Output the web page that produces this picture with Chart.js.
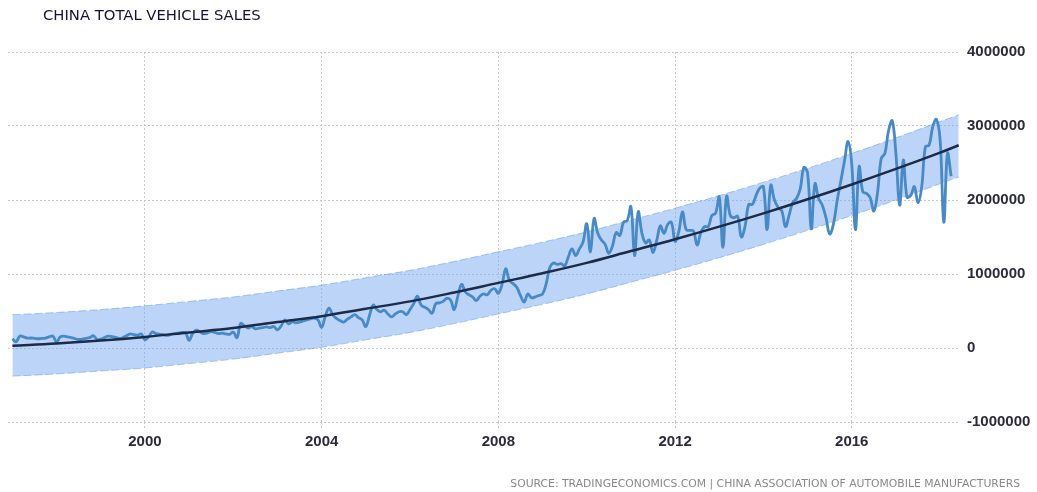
<!DOCTYPE html>
<html>
<head>
<meta charset="utf-8">
<script src="https://cdn.jsdelivr.net/npm/chart.js@4.4.1/dist/chart.umd.min.js"></script>
<style>
  body { margin: 0; background: #fff; }
  #wrap { position: relative; width: 1037px; height: 492px; }
  #title {
    position: absolute; left: 43px; top: 6px;
    font: 14.8px "DejaVu Sans", sans-serif; color: #141432;
  }
  #source {
    position: absolute; right: 17px; top: 477px;
    font: 10.8px "DejaVu Sans", sans-serif; color: #8a8a8a;
  }
</style>
</head>
<body>
<div id="wrap">
  <canvas id="myChart" width="1037" height="492"></canvas>
  <div id="title">CHINA TOTAL VEHICLE SALES</div>
  <div id="source">SOURCE: TRADINGECONOMICS.COM | CHINA ASSOCIATION OF AUTOMOBILE MANUFACTURERS</div>
</div>
<script>
// monthly sales, starting January 1997
let salesStartYear = 1997;
let sales = [
  125000, 85000, 160000, 150000, 135000, 135000, 130000, 125000, 130000, 135000, 150000, 160000, // 1997
  80000, 150000, 160000, 150000, 140000, 125000, 115000, 120000, 130000, 140000, 165000, 115000, // 1998
  120000, 140000, 160000, 155000, 145000, 130000, 140000, 165000, 190000, 180000, 175000, 190000, // 1999
  110000, 150000, 215000, 195000, 185000, 180000, 170000, 185000, 195000, 200000, 210000, 205000, // 2000
  105000, 200000, 240000, 215000, 195000, 205000, 220000, 210000, 195000, 200000, 190000, 185000, // 2001
  215000, 140000, 330000, 300000, 270000, 290000, 260000, 270000, 275000, 285000, 275000, 290000, // 2002
  245000, 300000, 380000, 325000, 355000, 340000, 350000, 365000, 380000, 395000, 405000, 380000, // 2003
  280000, 430000, 540000, 450000, 400000, 370000, 350000, 390000, 420000, 450000, 410000, 380000, // 2004
  290000, 440000, 580000, 520000, 490000, 510000, 460000, 420000, 460000, 490000, 490000, 450000, // 2005
  520000, 600000, 700000, 580000, 550000, 520000, 470000, 600000, 610000, 630000, 670000, 650000, // 2006
  520000, 700000, 860000, 760000, 720000, 690000, 640000, 700000, 730000, 720000, 780000, 800000, // 2007
  740000, 860000, 1070000, 910000, 870000, 820000, 710000, 620000, 730000, 680000, 690000, 710000, // 2008
  730000, 870000, 1090000, 1150000, 1130000, 1140000, 1110000, 1230000, 1340000, 1250000, 1340000, 1430000, // 2009
  1680000, 1300000, 1750000, 1550000, 1460000, 1400000, 1280000, 1380000, 1560000, 1520000, 1700000, 1720000, // 2010
  1910000, 1250000, 1840000, 1550000, 1420000, 1460000, 1290000, 1450000, 1650000, 1550000, 1670000, 1700000, // 2011
  1440000, 1570000, 1840000, 1600000, 1590000, 1580000, 1390000, 1560000, 1640000, 1640000, 1790000, 1820000, // 2012
  2040000, 1360000, 2050000, 1790000, 1760000, 1780000, 1500000, 1640000, 1940000, 1940000, 2060000, 2160000, // 2013
  2180000, 1600000, 2200000, 2000000, 1900000, 1850000, 1640000, 1800000, 1970000, 2020000, 2150000, 2440000, // 2014
  2360000, 1610000, 2220000, 2020000, 1930000, 1760000, 1540000, 1670000, 1980000, 2250000, 2520000, 2790000, // 2015
  2480000, 1600000, 2450000, 2110000, 2090000, 2030000, 1850000, 2100000, 2560000, 2630000, 2940000, 3070000, // 2016
  2620000, 1930000, 2540000, 2040000, 2060000, 2180000, 1960000, 2180000, 2720000, 2740000, 2990000, 3090000, // 2017
  2810000, 1700000, 2630000, 2320000 // 2018
];

// trend line and its band, read at yearly points
let trendYears = [1997, 1998, 1999, 2000, 2001, 2002, 2003, 2004, 2005, 2006, 2007, 2008,
  2009, 2010, 2011, 2012, 2013, 2014, 2015, 2016, 2017, 2018, 2018.42];
let trendValues = [30000, 60000, 100000, 150000, 210000, 270000, 350000, 430000, 530000, 630000, 750000, 880000,
  1010000, 1150000, 1310000, 1470000, 1640000, 1820000, 2010000, 2210000, 2420000, 2640000, 2740000];
let bandUpper = [450000, 480000, 520000, 570000, 630000, 690000, 770000, 850000, 950000, 1050000, 1170000, 1300000,
  1430000, 1570000, 1730000, 1890000, 2060000, 2240000, 2430000, 2630000, 2840000, 3060000, 3150000];
let bandLower = [-380000, -350000, -310000, -270000, -210000, -150000, -70000, 10000, 110000, 210000, 330000, 460000,
  590000, 730000, 890000, 1050000, 1220000, 1400000, 1590000, 1790000, 2000000, 2220000, 2310000];

let yearTicks = [2000, 2004, 2008, 2012, 2016];
let valueTicks = [-1000000, 0, 1000000, 2000000, 3000000, 4000000];

let salesPoints = sales.map((v, i) => ({ x: salesStartYear + i / 12, y: v }));
let pts = (vals) => vals.map((v, i) => ({ x: trendYears[i], y: v }));

let labelFont = { family: "'Liberation Sans', Arial, sans-serif", size: 15, weight: "bold" };

let chart = new Chart(document.getElementById("myChart"), {
  type: "line",
  data: {
    datasets: [
      {
        data: pts(trendValues),
        borderColor: "#1c2b47",
        borderWidth: 2.5,
        pointRadius: 0,
        tension: 0.4,
        order: 0,
      },
      {
        data: salesPoints,
        borderColor: "#4889c8",
        borderWidth: 2.8,
        pointRadius: 0,
        tension: 0.4,
        order: 1,
      },
      {
        data: pts(bandUpper),
        borderColor: "rgba(90,150,230,0.5)",
        borderWidth: 1,
        borderDash: [8, 3],
        backgroundColor: "rgba(120,170,240,0.5)",
        fill: "+1",
        pointRadius: 0,
        tension: 0.4,
        order: 2,
      },
      {
        data: pts(bandLower),
        borderColor: "rgba(90,150,230,0.5)",
        borderWidth: 1,
        borderDash: [8, 3],
        pointRadius: 0,
        tension: 0.4,
        order: 3,
      },
    ],
  },
  options: {
    responsive: false,
    animation: false,
    layout: { padding: { left: 8, top: 52, right: 0, bottom: 0 } },
    plugins: { legend: { display: false }, tooltip: { enabled: false } },
    scales: {
      x: {
        type: "linear",
        min: 1996.9,
        max: 2018.45,
        afterBuildTicks: (scale) => {
          scale.ticks = yearTicks.map((v) => ({ value: v }));
        },
        afterFit: (scale) => {
          scale.height = 70;
        },
        grid: { color: "#c8c8c8", tickLength: 6, tickBorderDash: [2, 2] },
        border: { display: false, dash: [2, 2] },
        ticks: {
          color: "#2b2b3a",
          font: labelFont,
          padding: 5,
          maxRotation: 0,
          callback: (v) => String(v),
        },
      },
      y: {
        position: "right",
        min: -1000000,
        max: 4000000,
        afterBuildTicks: (scale) => {
          scale.ticks = valueTicks.map((v) => ({ value: v }));
        },
        afterFit: (scale) => {
          scale.width = 77;
        },
        grid: { color: "#c8c8c8", drawTicks: false },
        border: { display: false, dash: [2, 2] },
        ticks: {
          color: "#2b2b3a",
          font: labelFont,
          padding: 7,
          callback: (v) => String(v),
        },
      },
    },
  },
});
</script>
</body>
</html>
